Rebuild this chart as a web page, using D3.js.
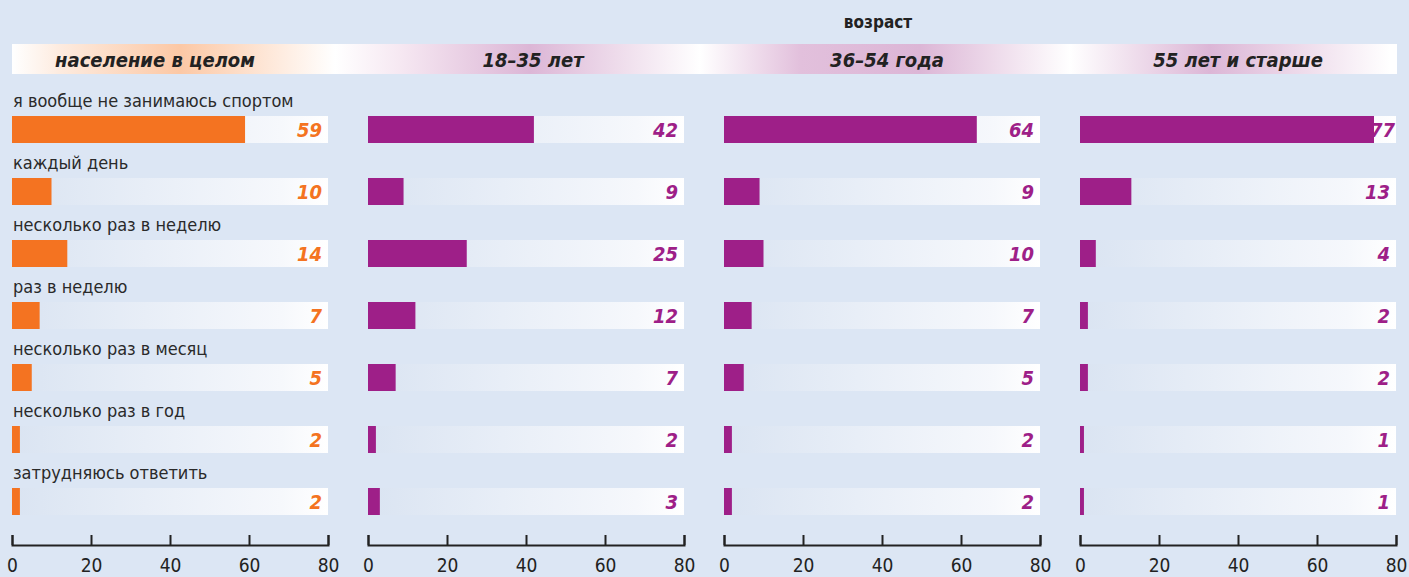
<!DOCTYPE html>
<html>
<head>
<meta charset="utf-8">
<script src="https://cdn.jsdelivr.net/npm/d3@7"></script>
<style>
  html, body { margin: 0; padding: 0; background: #dce6f4; }
  svg { display: block; }
</style>
</head>
<body>
<script>
'use strict';

// data
const categories = [
  "я вообще не занимаюсь спортом",
  "каждый день",
  "несколько раз в неделю",
  "раз в неделю",
  "несколько раз в месяц",
  "несколько раз в год",
  "затрудняюсь ответить"
];
const panelTitles = ["население в целом", "18–35 лет", "36–54 года", "55 лет и старше"];
const totalValues = [59, 10, 14, 7, 5, 2, 2];
const age18Values = [42, 9, 25, 12, 7, 2, 3];
const age36Values = [64, 9, 10, 7, 5, 2, 2];
const age55Values = [77, 13, 4, 2, 2, 1, 1];
const tickValues = [0, 20, 40, 60, 80];
const groupTitle = "возраст";

const W = 1409, H = 577;
const ORANGE = "#f47321", PURPLE = "#9e1f88";
const FONT = "'Liberation Sans Narrow', 'DejaVu Sans Condensed', 'Liberation Sans', sans-serif";

let svg = d3.select('body').append('svg')
  .attr('width', W)
  .attr('height', H);

let defs = svg.append('defs');

// header band gradient
let hg = defs.append('linearGradient')
  .attr('id', 'headGrad')
  .attr('gradientUnits', 'userSpaceOnUse')
  .attr('x1', 12).attr('x2', 1397).attr('y1', 0).attr('y2', 0);
[[12, "#ffffff"], [60, "#fdebdf"], [180, "#fcc8a5"], [335, "#ffffff"], [400, "#f6e8f2"],
 [530, "#dcb6d6"], [700, "#ffffff"], [800, "#e2c0dc"], [920, "#dcb6d6"], [1070, "#ffffff"],
 [1210, "#dcb6d6"], [1390, "#ffffff"], [1397, "#ffffff"]]
  .forEach(s => hg.append('stop')
    .attr('offset', ((s[0] - 12) / (1397 - 12)))
    .attr('stop-color', s[1]));

// track gradient (light blue to white)
let tg = defs.append('linearGradient')
  .attr('id', 'trackGrad')
  .attr('x1', 0).attr('x2', 1).attr('y1', 0).attr('y2', 0);
tg.append('stop').attr('offset', 0).attr('stop-color', '#dae4f2');
tg.append('stop').attr('offset', 0.85).attr('stop-color', '#f6f8fc');
tg.append('stop').attr('offset', 1).attr('stop-color', '#ffffff');

// header
svg.append('text')
  .attr('x', 878).attr('y', 28)
  .attr('text-anchor', 'middle')
  .style('font-family', FONT)
  .style('font-weight', 'bold')
  .style('font-size', '17px')
  .attr('fill', '#222')
  .text(groupTitle);

svg.append('rect')
  .attr('x', 12).attr('y', 44)
  .attr('width', 1385).attr('height', 30)
  .attr('fill', 'url(#headGrad)');

// panels
const panels = [
  { x0: 12, values: totalValues, color: ORANGE, titleShift: -15 },
  { x0: 368, values: age18Values, color: PURPLE, titleShift: 7 },
  { x0: 724, values: age36Values, color: PURPLE, titleShift: 5 },
  { x0: 1080, values: age55Values, color: PURPLE, titleShift: 0 }
];
const panelWidth = 316;

let yScale = d3.scaleBand()
  .domain(categories)
  .range([85, 85 + 62 * categories.length])
  .padding(0);
const barTop = 31, barH = 27;

panels.forEach((p, pi) => {
  let xScale = d3.scaleLinear().domain([0, 80]).range([p.x0, p.x0 + panelWidth]);

  svg.append('text')
    .attr('x', p.x0 + panelWidth / 2 + p.titleShift)
    .attr('y', 67)
    .attr('text-anchor', 'middle')
    .style('font-family', FONT)
    .style('font-weight', 'bold')
    .style('font-style', 'italic')
    .style('font-size', '20px')
    .attr('fill', '#222')
    .text(panelTitles[pi]);

  let rows = svg.append('g').selectAll('g')
    .data(categories)
    .enter()
    .append('g');

  rows.append('rect')
    .attr('x', xScale(0))
    .attr('y', d => yScale(d) + barTop)
    .attr('width', xScale(80) - xScale(0))
    .attr('height', barH)
    .attr('fill', 'url(#trackGrad)');

  rows.append('rect')
    .attr('x', xScale(0))
    .attr('y', d => yScale(d) + barTop)
    .attr('width', (d, i) => Math.min(xScale(p.values[i]), xScale(80) - 22) - xScale(0))
    .attr('height', barH)
    .attr('fill', p.color);

  rows.append('text')
    .attr('x', (d, i) => p.values[i] > 70 ? xScale(80) - 1 : xScale(80) - 6)
    .attr('y', d => yScale(d) + barTop + 21)
    .attr('text-anchor', 'end')
    .style('font-family', FONT)
    .style('font-weight', 'bold')
    .style('font-style', 'italic')
    .style('font-size', '20px')
    .attr('fill', p.color)
    .text((d, i) => p.values[i]);

  if (pi === 0) {
    rows.append('text')
      .attr('x', 13)
      .attr('y', d => yScale(d) + barTop - 9)
      .style('font-family', FONT)
      .style('font-size', '18px')
      .attr('fill', '#2a2a2a')
      .text(d => d);
  }

  // axis with upward ticks
  let axis = d3.axisBottom(xScale)
    .tickValues(tickValues)
    .tickSizeInner(-10)
    .tickSizeOuter(-10)
    .tickPadding(14);
  let g = svg.append('g')
    .attr('transform', 'translate(0, 545)')
    .call(axis);
  g.selectAll('path, line')
    .attr('stroke', '#222')
    .attr('stroke-width', 2);
  g.selectAll('text')
    .style('font-family', FONT)
    .style('font-size', '19px')
    .attr('fill', '#222');
});
</script>
</body>
</html>
